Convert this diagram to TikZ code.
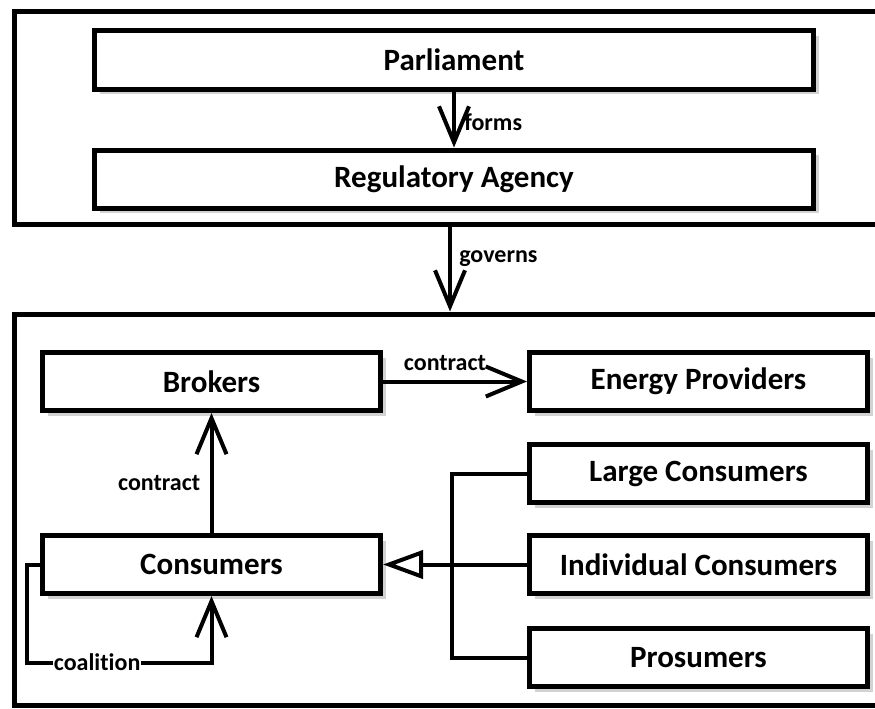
\documentclass[tikz,border=0pt]{standalone}
\usepackage{fontspec}
\setmainfont{Carlito}[Ligatures=NoCommon]
\usepackage{tikz}
\usetikzlibrary{arrows.meta,positioning,shadows}
\newcommand\boxfont{\fontsize{31}{37}\selectfont\bfseries}
\newcommand\lblfont{\fontsize{24}{29}\selectfont\bfseries}
\tikzset{
    pane/.style={draw=black, line width=5pt},
    box/.style={draw=black, fill=white, line width=5pt, minimum width=338pt, minimum height=58pt,
        inner sep=0pt, font=\boxfont, drop shadow={shadow xshift=5pt, shadow yshift=-5pt, fill=black!35}},
    widebox/.style={box, minimum width=719pt},
    link/.style={line width=4pt, -{Straight Barb[length=36pt, width=30pt]}},
    isa/.style={line width=4pt, -{Triangle[open, length=40pt, width=28pt]}},
    bus/.style={line width=4pt},
    lbl/.style={font=\lblfont}
}

\begin{document}
\begin{tikzpicture}
  [
    x                       = 1pt,
    y                       = -1pt,
    every node/.style       = {text=black},
  ]
  \useasboundingbox (0,0) rectangle (875,709);
  \node [pane, minimum width=872pt, minimum height=212pt] (gov) at (450,118) {};
  \node [pane, minimum width=872pt, minimum height=391pt] (mkt) at (450,509.5) {};

  \node [widebox] (parl) at (454,60) {Parliament};
  \node [widebox, below=56pt of parl] (reg) {Regulatory Agency};

  \node [box] (brok) at (211.5,381.5) {Brokers};
  \node [box, right=144pt of brok] (prov) {Energy Providers};
  \node [box, below=29pt of prov] (large) {Large Consumers};
  \node [box, below=28pt of large] (indiv) {Individual Consumers};
  \node [box, below=30pt of indiv] (pros) {Prosumers};
  \node [box] (cons) at (brok |- indiv) {Consumers};

  \draw [link] (parl.south) -- node [lbl, right=5pt, pos=0.55] {forms} (reg.north);
  \draw [link] (gov.south) -- node [lbl, right=4pt, pos=0.38] {governs} (mkt.north);
  \draw [link] (brok.east) -- node [lbl, above=5pt, pos=0.43] {contract} (prov.west);
  \draw [link] (cons.north) -- node [lbl, left=6pt, pos=0.42] {contract} (brok.south);
  \draw [link] (cons.west) -- ++(-13,0)
    |- node [lbl, fill=white, inner sep=1pt, pos=0.69] {coalition} ++(184.5,98)
    -- (cons.south);

  \draw [bus] (large.west) -- ++(-75,0) |- (pros.west);
  \draw [isa] (indiv.west) -- (cons.east);
\end{tikzpicture}
\end{document}
